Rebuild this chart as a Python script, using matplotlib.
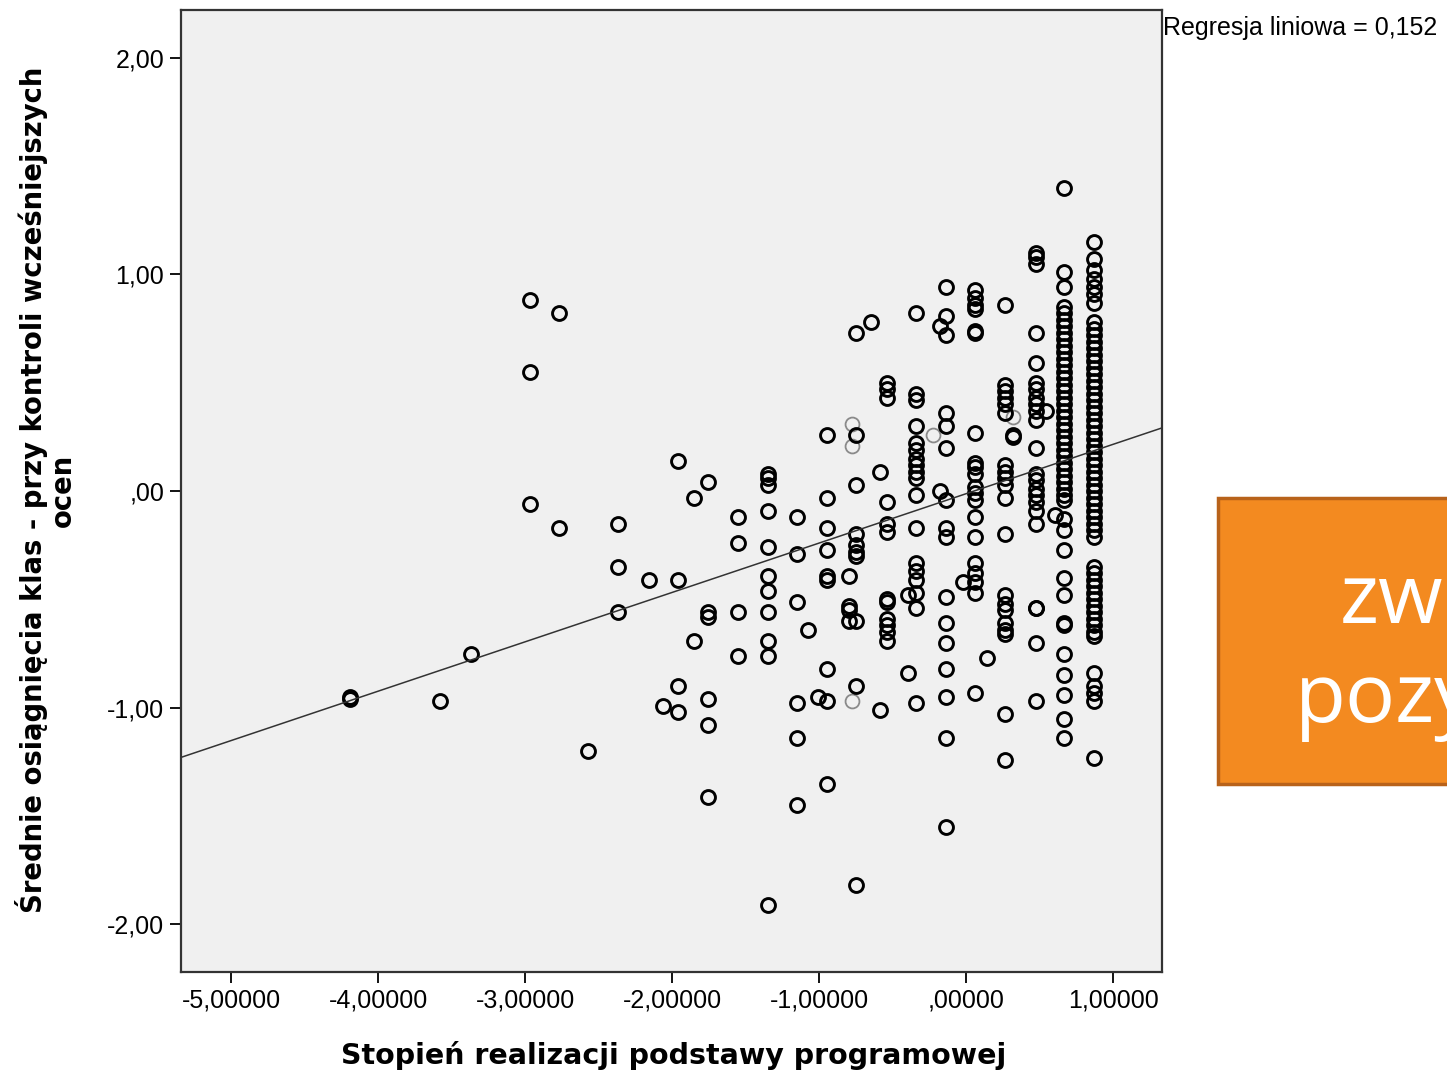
import matplotlib
matplotlib.use("Agg")
import matplotlib.pyplot as plt
import matplotlib.patches as patches
import numpy as np

### data (x = column position, y = points in that column)
col_x = [-4.19, -3.58, -3.37, -2.97, -2.77, -2.57, -2.37, -2.16, -2.06, -1.96,
         -1.85, -1.755, -1.55, -1.35, -1.15, -1.08, -1.01, -0.945, -0.80, -0.75,
         -0.65, -0.59, -0.54, -0.40, -0.34, -0.18, -0.14, -0.02, 0.06, 0.14,
         0.265, 0.32, 0.47, 0.54, 0.60, 0.667, 0.87]

col_y = [
    [-0.96, -0.95],
    [-0.97],
    [-0.75],
    [0.88, 0.55, -0.06],
    [0.82, -0.17],
    [-1.20],
    [-0.15, -0.35, -0.56],
    [-0.41],
    [-0.99],
    [0.14, -0.41, -0.90, -1.02],
    [-0.03, -0.69],
    [0.04, -0.56, -0.58, -0.96, -1.08, -1.41],
    [-0.12, -0.24, -0.56, -0.76],
    [0.08, 0.06, 0.03, -0.09, -0.26, -0.39, -0.46, -0.56, -0.69, -0.76, -1.91],
    [-0.12, -0.29, -0.51, -0.98, -1.14, -1.45],
    [-0.64],
    [-0.95],
    [0.26, -0.03, -0.17, -0.27, -0.39, -0.41, -0.82, -0.97, -1.35],
    [-0.39, -0.53, -0.55, -0.60],
    [0.73, 0.26, 0.03, -0.20, -0.25, -0.28, -0.30, -0.60, -0.90, -1.82],
    [0.78],
    [0.09, -1.01],
    [0.50, 0.47, 0.43, -0.05, -0.15, -0.19, -0.50, -0.51, -0.59, -0.62, -0.65, -0.69],
    [-0.48, -0.84],
    [0.82, 0.45, 0.42, 0.30, 0.22, 0.19, 0.15, 0.12, 0.09, 0.06, -0.02, -0.17,
     -0.33, -0.37, -0.41, -0.47, -0.54, -0.98],
    [0.76, 0.00],
    [0.94, 0.81, 0.72, 0.36, 0.30, 0.20, -0.04, -0.17, -0.21, -0.49, -0.61, -0.70,
     -0.82, -0.95, -1.14, -1.55],
    [-0.42],
    [0.93, 0.89, 0.86, 0.84, 0.74, 0.73, 0.27, 0.13, 0.11, 0.08, 0.02, -0.01, -0.04,
     -0.12, -0.21, -0.33, -0.38, -0.42, -0.47, -0.93],
    [-0.77],
    [0.86, 0.49, 0.46, 0.43, 0.40, 0.36, 0.12, 0.09, 0.06, 0.03, -0.03, -0.20,
     -0.48, -0.52, -0.55, -0.61, -0.64, -0.66, -1.03, -1.24],
    [0.26, 0.25],
    [1.10, 1.08, 1.05, 0.73, 0.59, 0.50, 0.47, 0.43, 0.40, 0.37, 0.33, 0.20, 0.08,
     0.05, 0.01, -0.02, -0.05, -0.09, -0.15, -0.54, -0.54, -0.70, -0.97],
    [0.37],
    [-0.11],
    [1.40, 1.01, 0.94, 0.85, 0.82, 0.79, 0.76, 0.73, 0.70, 0.67, 0.64, 0.61, 0.58,
     0.55, 0.52, 0.49, 0.46, 0.43, 0.40, 0.37, 0.34, 0.31, 0.28, 0.25, 0.22, 0.19,
     0.16, 0.13, 0.10, 0.07, 0.04, 0.01, -0.02, -0.04, -0.13, -0.18, -0.27, -0.40,
     -0.48, -0.61, -0.62, -0.75, -0.85, -0.94, -1.05, -1.14],
    [1.15, 1.07, 1.02, 0.98, 0.94, 0.91, 0.87, 0.78, 0.75, 0.72, 0.69, 0.66, 0.63,
     0.60, 0.57, 0.54, 0.51, 0.48, 0.45, 0.42, 0.39, 0.36, 0.33, 0.30, 0.27, 0.24,
     0.21, 0.18, 0.15, 0.12, 0.09, 0.06, 0.03, 0.00, -0.03, -0.06, -0.09, -0.12,
     -0.15, -0.18, -0.21, -0.35, -0.38, -0.41, -0.44, -0.47, -0.50, -0.53, -0.56,
     -0.59, -0.62, -0.65, -0.67, -0.84, -0.90, -0.93, -0.97, -1.23],
]

### a few fainter (grey) circles
gray_x = [-0.78, -0.78, -0.78, -0.23, 0.32]
gray_y = [0.31, 0.21, -0.97, 0.26, 0.34]

fit_coef = [0.228, -0.012]   # slope, intercept of the line shown
r2_text = "Regresja liniowa = 0,152"

x_ticks = [-5, -4, -3, -2, -1, 0, 1]
x_ticklabels = ["-5,00000", "-4,00000", "-3,00000", "-2,00000", "-1,00000", ",00000", "1,00000"]
y_ticks = [2, 1, 0, -1, -2]
y_ticklabels = ["2,00", "1,00", ",00", "-1,00", "-2,00"]

### flatten the columns into point lists
px = []
py = []
for xv, ys in zip(col_x, col_y):
    for yv in ys:
        px.append(xv)
        py.append(yv)

fig = plt.figure(figsize=(14.47, 10.74), dpi=100)
ax = fig.add_axes([181 / 1447, 1 - 972 / 1074, (1162 - 181) / 1447, (972 - 10) / 1074])
ax.set_facecolor("#f0f0f0")

ax.plot(gray_x, gray_y, linestyle="none", marker="o", markersize=10,
        markerfacecolor="none", markeredgecolor="#8a8a8a", markeredgewidth=1.3)
ax.plot(px, py, linestyle="none", marker="o", markersize=10,
        markerfacecolor="none", markeredgecolor="black", markeredgewidth=2.1)

xl = np.array([-5.34, 1.33])
ax.plot(xl, np.poly1d(fit_coef)(xl), color="#333333", linewidth=1.1)

ax.set_xlim(-5.34, 1.33)
ax.set_ylim(-2.22, 2.22)
ax.set_xticks(x_ticks)
ax.set_xticklabels(x_ticklabels)
ax.set_yticks(y_ticks)
ax.set_yticklabels(y_ticklabels)

for s in ax.spines.values():
    s.set_linewidth(1.6)
    s.set_color("#333333")
ax.tick_params(direction="out", length=8, width=1.3, labelsize=18, pad=4,
               top=False, right=False)
for lab in ax.get_xticklabels() + ax.get_yticklabels():
    lab.set_fontfamily("Liberation Sans")

### axis titles placed in figure pixels
fig.text(674 / 1447, 1 - 1055 / 1074, "Stopień realizacji podstawy programowej",
         ha="center", va="center", fontsize=20.5, fontweight="bold",
         fontfamily="DejaVu Sans")
fig.text(46 / 1447, 1 - 490 / 1074,
         "Średnie osiągnięcia klas - przy kontroli wcześniejszych\nocen",
         rotation=90, ha="center", va="center", fontsize=19.8, fontweight="bold",
         fontfamily="DejaVu Sans", linespacing=1.0)

fig.text(1163 / 1447, 1 - 28 / 1074, r2_text, ha="left", va="center",
         fontsize=18, fontfamily="Liberation Sans")

### orange box on the right (cut off by the slide edge)
box = patches.Rectangle((1218 / 1447, 1 - 784 / 1074), 300 / 1447, 286 / 1074,
                        transform=fig.transFigure, facecolor="#f38a20",
                        edgecolor="#b8621a", linewidth=2.5)
fig.patches.append(box)
fig.text(1340 / 1447, 1 - 623 / 1074, "zw", ha="left", va="baseline",
         fontsize=60, color="white", fontfamily="Open Sans")
fig.text(1295 / 1447, 1 - 722 / 1074, "pozy", ha="left", va="baseline",
         fontsize=60, color="white", fontfamily="Open Sans")

plt.savefig("out.png", dpi=100)
